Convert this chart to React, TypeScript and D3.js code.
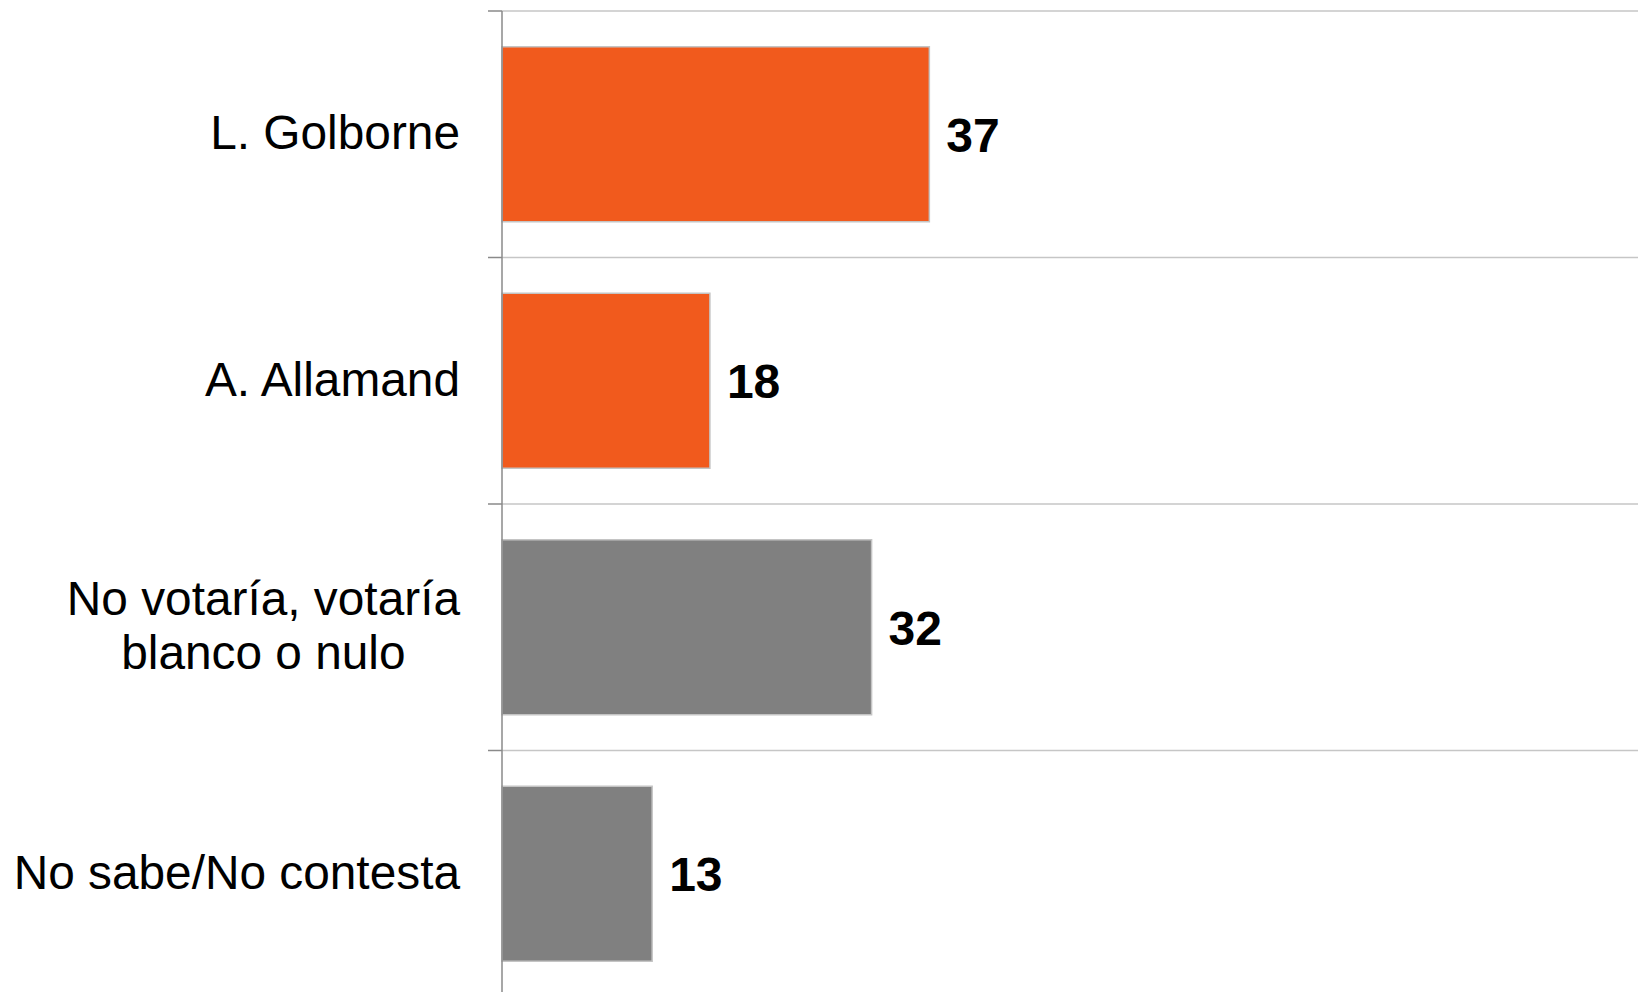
import { useEffect, useRef } from "react";
import * as d3 from "d3";

const categories = ["L. Golborne", "A. Allamand", "No votaría, votaría|blanco o nulo", "No sabe/No contesta"];
const values = [37, 18, 32, 13];
const barColors = ["#F15A1D", "#F15A1D", "#808080", "#808080"];

const W = 1638;
const H = 992;

const App = () => {
  const ref = useRef<SVGSVGElement>(null);

  useEffect(() => {
    if (!ref.current) return;
    const svg = d3.select(ref.current);
    svg.selectAll("*").remove();

    const left = 502;
    const top = 11;
    const bandH = 246.5;

    const x = d3.scaleLinear().domain([0, 100]).range([left, left + 1155]);
    const y = d3
      .scaleBand<number>()
      .domain(d3.range(categories.length))
      .range([top, top + bandH * categories.length])
      .paddingInner(0.29)
      .paddingOuter(0.145);

    const font = "'Liberation Sans', Arial, sans-serif";

    // gridlines between categories + ticks
    const bounds = d3.range(categories.length + 1).map((i) => top + i * bandH);
    svg
      .append("g")
      .selectAll("line")
      .data(bounds)
      .enter()
      .append("line")
      .attr("x1", left)
      .attr("x2", W)
      .attr("y1", (d) => d)
      .attr("y2", (d) => d)
      .attr("stroke", "#c6c6c6")
      .attr("stroke-width", 1.5);

    svg
      .append("g")
      .selectAll("line")
      .data(bounds)
      .enter()
      .append("line")
      .attr("x1", left - 14)
      .attr("x2", left)
      .attr("y1", (d) => d)
      .attr("y2", (d) => d)
      .attr("stroke", "#8a8a8a")
      .attr("stroke-width", 1.5);

    // bars
    svg
      .append("g")
      .selectAll("rect")
      .data(values)
      .enter()
      .append("rect")
      .attr("x", x(0))
      .attr("y", (_d, i) => y(i)!)
      .attr("width", (d) => x(d) - x(0))
      .attr("height", y.bandwidth())
      .attr("fill", (_d, i) => barColors[i])
      .attr("stroke", "#c4c4c4")
      .attr("stroke-width", 1.5);

    // axis line
    svg
      .append("line")
      .attr("x1", left)
      .attr("x2", left)
      .attr("y1", top)
      .attr("y2", H)
      .attr("stroke", "#8a8a8a")
      .attr("stroke-width", 1.5);

    // value labels
    svg
      .append("g")
      .selectAll("text")
      .data(values)
      .enter()
      .append("text")
      .attr("x", (d) => x(d) + 17)
      .attr("y", (_d, i) => y(i)! + y.bandwidth() / 2)
      .attr("dy", "0.36em")
      .attr("font-family", font)
      .attr("font-weight", "bold")
      .attr("font-size", 48)
      .attr("fill", "#000")
      .text((d) => d);

    // category labels (centered lines, right-aligned block)
    const labelRight = 460;
    const lineH = 54;
    categories.forEach((c, i) => {
      const lines = c.split("|");
      const cy = y(i)! + y.bandwidth() / 2;
      const g = svg.append("g");
      const texts = lines.map((l, j) =>
        g
          .append("text")
          .attr("y", cy + (j - (lines.length - 1) / 2) * lineH - 2)
          .attr("dy", "0.36em")
          .attr("font-family", font)
          .attr("font-size", 47.8)
          .attr("fill", "#000")
          .attr("text-anchor", "middle")
          .text(l)
      );
      const widths = texts.map((t) => (t.node() as SVGTextElement).getComputedTextLength());
      const maxW = d3.max(widths) ?? 0;
      texts.forEach((t) => t.attr("x", labelRight - maxW / 2));
    });
  }, []);

  return (
    <svg
      ref={ref}
      width={W}
      height={H}
      style={{ position: "absolute", left: 0, top: 0, background: "#fff" }}
    ></svg>
  );
};

export default App;
